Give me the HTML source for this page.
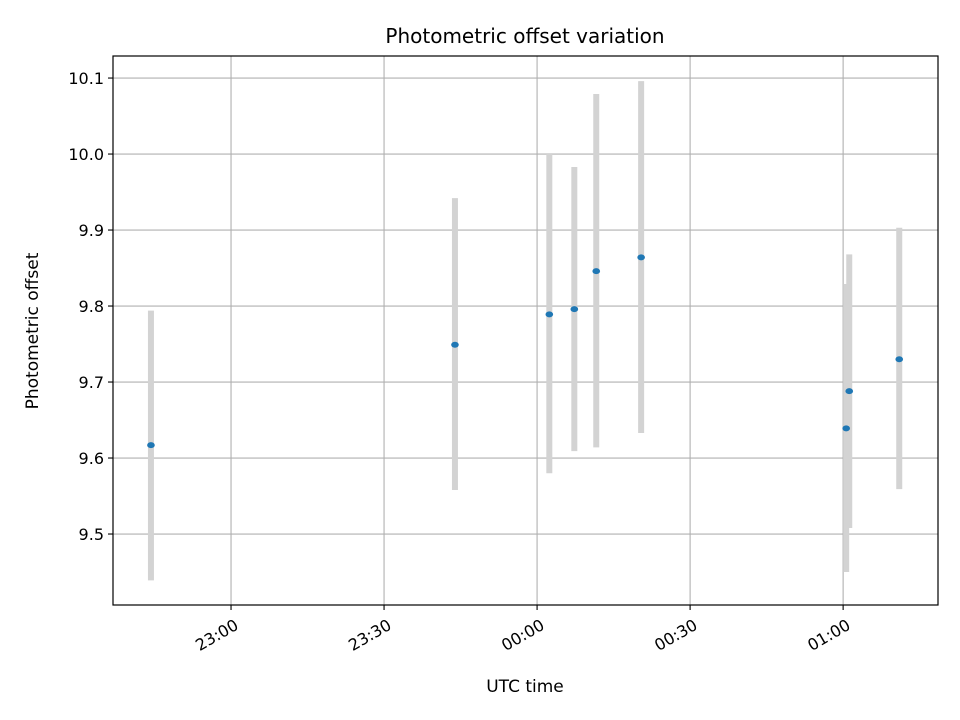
<!DOCTYPE html>
<html><head><meta charset="utf-8"><style>
body{margin:0;background:#fff;}
svg{display:block;font-family:"DejaVu Sans","Liberation Sans",sans-serif;}
</style></head><body>
<svg id="chart" width="960" height="720" viewBox="0 0 960 720">
<rect x="0" y="0" width="960" height="720" fill="#fff"/>
<text x="525" y="43" text-anchor="middle" font-size="20" fill="#000">Photometric offset variation</text>
<g id="grid"></g>
<g id="bars"></g>
<g id="points"></g>
<rect x="113" y="56" width="825" height="549" fill="none" stroke="#000" stroke-width="1.2"/>
<g id="axes"></g>
<text x="525" y="692" text-anchor="middle" font-size="17">UTC time</text>
<text transform="translate(38,331) rotate(-90)" text-anchor="middle" font-size="17">Photometric offset</text>
</svg>
<script>
// minutes after 23:00 UTC
const times = [-15.7, 43.9, 62.4, 67.3, 71.6, 80.4, 120.6, 121.2, 131.0];
const offsets = [9.617, 9.749, 9.789, 9.796, 9.846, 9.864, 9.639, 9.688, 9.730];
const lowErr = [9.439, 9.558, 9.580, 9.609, 9.614, 9.633, 9.450, 9.508, 9.559];
const highErr = [9.794, 9.942, 10.000, 9.983, 10.079, 10.096, 9.829, 9.868, 9.903];
const xTickMinutes = [0, 30, 60, 90, 120];
const xTickLabels = ["23:00", "23:30", "00:00", "00:30", "01:00"];
const yTicks = [9.5, 9.6, 9.7, 9.8, 9.9, 10.0, 10.1];
const yTickLabels = ["9.5", "9.6", "9.7", "9.8", "9.9", "10.0", "10.1"];

const L=113,R=938,T=56,B=605;
const xMin=-23.14,xMax=138.6,yMin=9.4066,yMax=10.129;
const sx=m=>L+(m-xMin)/(xMax-xMin)*(R-L);
const sy=v=>B-(v-yMin)/(yMax-yMin)*(B-T);
const NS="http://www.w3.org/2000/svg";
function mk(tag,attrs,parent){const e=document.createElementNS(NS,tag);for(const k in attrs)e.setAttribute(k,attrs[k]);parent.appendChild(e);return e;}
const grid=document.getElementById('grid'),axes=document.getElementById('axes'),bars=document.getElementById('bars'),pts=document.getElementById('points');

xTickMinutes.forEach((m,i)=>{
  const x=sx(m);
  const g=mk('line',{x1:x,x2:x,y1:T,y2:B,stroke:'#b0b0b0','stroke-width':1.1},grid);
  
  
  const t=mk('line',{x1:x,x2:x,y1:B,y2:B+5,stroke:'#000','stroke-width':1.1},axes);
  
  
  const lb=mk('text',{transform:`translate(${x+2},${B+12}) rotate(-30)`,x:0,y:13,'text-anchor':'end','font-size':16},axes);
  lb.textContent=xTickLabels[i];
  
  
});
yTicks.forEach((v,i)=>{
  const y=sy(v);
  const g=mk('line',{x1:L,x2:R,y1:y,y2:y,stroke:'#b0b0b0','stroke-width':1.1},grid);
  
  
  const t=mk('line',{x1:L-5,x2:L,y1:y,y2:y,stroke:'#000','stroke-width':1.1},axes);
  
  
  const lb=mk('text',{x:L-9,y:y+6,'text-anchor':'end','font-size':16},axes);
  lb.textContent=yTickLabels[i];
  
  
});
times.forEach((m,i)=>{
  const x=sx(m);
  const b=mk('line',{x1:x,x2:x,y1:sy(highErr[i]),y2:sy(lowErr[i]),stroke:'#d3d3d3','stroke-width':6},bars);
  
  
});
times.forEach((m,i)=>{
  const p=mk('ellipse',{cx:sx(m),cy:sy(offsets[i]),rx:3.8,ry:3,fill:'#1f77b4'},pts);
  
  
});
</script>
</body></html>
